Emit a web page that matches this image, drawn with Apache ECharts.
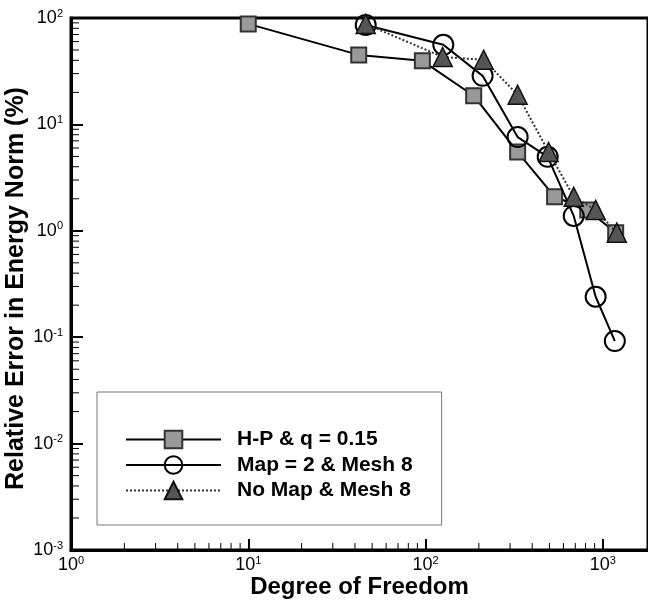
<!DOCTYPE html>
<html><head><meta charset="utf-8">
<script src="https://cdn.jsdelivr.net/npm/echarts@6/dist/echarts.min.js"></script>
<style>html,body{margin:0;padding:0;background:#fff}#c{width:648px;height:600px}</style>
</head><body><div id="c"></div>
<script>
// Data (x = degrees of freedom, y = relative error %)
var hpX = [10, 42, 96, 187, 331, 535, 823, 1183];
var hpY = [88, 45, 39.6, 18.6, 5.5, 2.09, 1.57, 0.96];
var mapX = [46, 126, 210, 331, 489, 686, 912, 1170];
var mapY = [86, 56, 28.6, 7.6, 4.96, 1.38, 0.24, 0.092];
var noMapX = [46, 125, 213, 331, 495, 686, 912, 1200];
var noMapY = [88, 43, 40.5, 19, 5.5, 2.09, 1.57, 0.96];
var seriesNames = ['H-P & q = 0.15', 'Map = 2 & Mesh 8', 'No Map & Mesh 8'];
var xMinorTicks = [2,3,4,5,6,7,8,9,20,30,40,50,60,70,80,90,200,300,400,500,600,700,800,900];
var yMinorTicks = [0.002,0.003,0.004,0.005,0.006,0.007,0.008,0.009,0.02,0.03,0.04,0.05,0.06,0.07,0.08,0.09,0.2,0.3,0.4,0.5,0.6,0.7,0.8,0.9,2,3,4,5,6,7,8,9,20,30,40,50,60,70,80,90];

function zip(a, b) { return a.map(function (v, i) { return [v, b[i]]; }); }
function powLabel(v) {
  var e = Math.round(Math.log10(v));
  if (Math.abs(Math.log10(v) - e) > 1e-6) return '';
  return '{b|10}{s|' + e + '}';
}
var font = 'Liberation Sans';
var labelRich = {
  b: { fontSize: 18, fontFamily: font, color: '#000', lineHeight: 20 },
  s: { fontSize: 11, fontFamily: font, color: '#000', verticalAlign: 'top', lineHeight: 11 }
};
var chart = echarts.init(document.getElementById('c'));
chart.setOption({
  animation: false,
  backgroundColor: '#fff',
  grid: { left: 71, top: 18, bottom: 50, right: 0, containLabel: false, outerBoundsMode: 'none',
          show: true, borderColor: '#000', borderWidth: 3, backgroundColor: 'transparent' },
  xAxis: {
    type: 'log', logBase: 10, min: 1, max: 1800,
    name: 'Degree of Freedom', nameLocation: 'middle', nameGap: 25, nameMoveOverlap: false,
    nameTextStyle: { fontFamily: font, fontWeight: 'bold', fontSize: 24, color: '#000' },
    axisLine: { show: true, lineStyle: { color: '#000', width: 3 } },
    axisTick: { show: true, inside: true, length: 11, lineStyle: { color: '#000', width: 2 } },
    axisLabel: { formatter: powLabel, rich: labelRich, margin: 5, showMaxLabel: false },
    splitLine: { show: false }
  },
  yAxis: {
    type: 'log', logBase: 10, min: 0.001, max: 100,
    name: 'Relative Error in Energy Norm (%)', nameLocation: 'middle', nameGap: 42, nameMoveOverlap: false,
    nameTextStyle: { fontFamily: font, fontWeight: 'bold', fontSize: 25, color: '#000', padding: [0, 9, 0, 0] },
    axisLine: { show: true, lineStyle: { color: '#000', width: 3 } },
    axisTick: { show: true, inside: true, length: 12, lineStyle: { color: '#000', width: 2 } },
    axisLabel: { formatter: powLabel, rich: labelRich, margin: 8 },
    splitLine: { show: false }
  },
  legend: {
    orient: 'vertical', left: 97, top: 392,
    data: seriesNames,
    itemWidth: 95, itemHeight: 22, itemGap: 4.5,
    padding: [37, 29, 24, 28],
    borderColor: '#777', borderWidth: 1, backgroundColor: '#fff',
    textStyle: { fontFamily: font, fontWeight: 'bold', fontSize: 21, color: '#000', padding: [0, 0, 0, 11] }
  },
  series: [
    {
      type: 'custom', silent: true, clip: false, z: 5,
      data: xMinorTicks.map(function (v) { return [v, 0.001]; }),
      renderItem: function (params, api) {
        var p = api.coord([api.value(0), api.value(1)]);
        return { type: 'line', shape: { x1: p[0], y1: p[1], x2: p[0], y2: p[1] - 7 }, style: { stroke: '#000', lineWidth: 1 } };
      }
    },
    {
      type: 'custom', silent: true, clip: false, z: 5,
      data: yMinorTicks.map(function (v) { return [1, v]; }),
      renderItem: function (params, api) {
        var p = api.coord([api.value(0), api.value(1)]);
        return { type: 'line', shape: { x1: p[0], y1: p[1], x2: p[0] + 8, y2: p[1] }, style: { stroke: '#000', lineWidth: 1 } };
      }
    },
    {
      name: seriesNames[0], type: 'line', data: zip(hpX, hpY), z: 10,
      symbol: 'rect', symbolSize: 15,
      lineStyle: { color: '#000', width: 2 },
      itemStyle: { color: '#999', borderColor: '#333', borderWidth: 2 }
    },
    {
      name: seriesNames[1], type: 'line', data: zip(mapX, mapY), z: 11,
      symbol: 'circle', symbolSize: 20,
      lineStyle: { color: '#000', width: 2 },
      itemStyle: { color: 'rgba(255,255,255,0)', borderColor: '#000', borderWidth: 2 }
    },
    {
      name: seriesNames[2], type: 'line', data: zip(noMapX, noMapY), z: 12,
      symbol: 'triangle', symbolSize: 19,
      lineStyle: { color: '#333', width: 2, type: 'dotted' },
      itemStyle: { color: '#555', borderColor: '#111', borderWidth: 1.5 }
    }
  ]
});
</script></body></html>
